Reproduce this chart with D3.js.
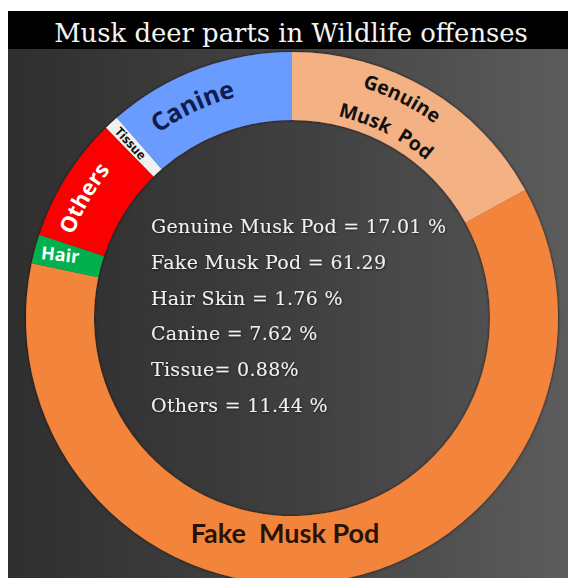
<!DOCTYPE html>
<html>
<head>
<meta charset="utf-8">
<script src="https://cdn.jsdelivr.net/npm/d3@7"></script>
<style>
  html, body { margin: 0; padding: 0; background: #ffffff; }
  svg { display: block; }
</style>
</head>
<body>
<svg id="chart" width="568" height="578"></svg>
<script>
// Share of musk deer parts seized in wildlife offences (%)
const categories = ["Genuine Musk Pod", "Fake Musk Pod", "Hair Skin", "Canine", "Tissue", "Others"];
const values = [17.01, 61.29, 1.76, 7.62, 0.88, 11.44];
const sliceColors = ["#F4B183", "#F3843A", "#00B050", "#FA0000", "#F0F0F0", "#6A9BFF"];
// Tags written on the ring, one per slice, in slice order
const ringTags = ["Genuine|Musk  Pod", "Fake  Musk Pod", "Hair", "Others", "Tissue", "Canine"];
// Summary lines printed in the hole
const summaryLines = [
  "Genuine Musk Pod = 17.01 %",
  "Fake Musk Pod = 61.29",
  "Hair Skin = 1.76 %",
  "Canine = 7.62 %",
  "Tissue= 0.88%",
  "Others = 11.44 %"
];
const titleText = "Musk deer parts in Wildlife offenses";

const W = 568, H = 578;
const svg = d3.select("#chart");
const defs = svg.append("defs");

// Background gradient: darker on the left, lighter to the right
const bg = defs.append("linearGradient").attr("id", "bgGrad")
  .attr("x1", "0%").attr("y1", "0%").attr("x2", "100%").attr("y2", "0%");
bg.append("stop").attr("offset", "0%").attr("stop-color", "#2f2f2f");
bg.append("stop").attr("offset", "55%").attr("stop-color", "#454545");
bg.append("stop").attr("offset", "100%").attr("stop-color", "#5c5c5c");

const shadow = defs.append("filter").attr("id", "ringShadow")
  .attr("x", "-10%").attr("y", "-10%").attr("width", "120%").attr("height", "120%");
shadow.append("feDropShadow").attr("dx", 0).attr("dy", 0)
  .attr("stdDeviation", 1.6).attr("flood-color", "#1a0800").attr("flood-opacity", 0.9);

const txtShadow = defs.append("filter").attr("id", "txtGlow");
txtShadow.append("feDropShadow").attr("dx", 0.6).attr("dy", 0.8)
  .attr("stdDeviation", 0.8).attr("flood-color", "#000").attr("flood-opacity", 0.6);

// Panel
svg.append("rect").attr("x", 8).attr("y", 11).attr("width", W - 8).attr("height", H - 11)
  .attr("fill", "url(#bgGrad)");

// Donut geometry
const cx = 292, cy = 318, rOuter = 266, rInner = 198;

const g = svg.append("g").attr("transform", `translate(${cx},${cy})`);

// slightly darker hole
g.append("circle").attr("r", rInner).attr("fill", "#000").attr("fill-opacity", 0.05);

const pie = d3.pie().sort(null).value(d => d.value);
const arcs = pie(categories.map((c, i) => ({ name: c, value: values[i], color: sliceColors[i], tag: ringTags[i] })));
const arcGen = d3.arc().innerRadius(rInner).outerRadius(rOuter);

g.append("g").attr("filter", "url(#ringShadow)")
  .selectAll("path").data(arcs).join("path")
  .attr("d", arcGen)
  .attr("fill", d => d.data.color);

// Title bar
svg.append("rect").attr("x", 8).attr("y", 11).attr("width", W - 8).attr("height", 38).attr("fill", "#000");
const title = svg.append("text")
  .attr("x", 291).attr("y", 42)
  .attr("text-anchor", "middle")
  .attr("font-family", "'DejaVu Serif', serif")
  .attr("font-size", 26)
  .attr("fill", "#f4f4f4")
  .text(titleText);
// keep the title to its width inside the bar
const tw = title.node().getComputedTextLength();
if (tw > 474) title.attr("font-size", 26 * 474 / tw);

// Helpers for labels written along the ring
const deg = Math.PI / 180;
const pt = (a, r) => [r * Math.sin(a * deg), -r * Math.cos(a * deg)];
let pathId = 0;
function curvedLabel(text, angle, r, opts) {
  const id = "lp" + (pathId++);
  const s = pt(angle - 89, r), e = pt(angle + 89, r);
  defs.append("path").attr("id", id)
    .attr("d", `M${s[0] + cx},${s[1] + cy} A${r},${r} 0 0 1 ${e[0] + cx},${e[1] + cy}`);
  svg.append("text")
    .attr("font-family", opts.family || "'Open Sans', sans-serif")
    .attr("font-weight", 700)
    .attr("font-size", opts.size)
    .attr("fill", opts.color)
    .append("textPath")
    .attr("href", "#" + id)
    .attr("startOffset", "50%")
    .attr("text-anchor", "middle")
    .style("white-space", "pre")
    .text(text);
}
// Same idea, but each glyph is set on its own so the two stacked lines stay tight
function letterArc(text, angle, r, opts) {
  const font = opts.family || "'Open Sans', sans-serif";
  const probe = svg.append("text").attr("font-family", font).attr("font-weight", 700)
    .attr("font-size", opts.size).style("white-space", "pre").text(text);
  const node = probe.node();
  const widths = Array.from(text, (c, i) => node.getSubStringLength(i, 1));
  probe.remove();
  const total = d3.sum(widths);
  let off = 0;
  const gl = g.append("g");
  Array.from(text).forEach((c, i) => {
    const w = widths[i];
    const a = angle + ((off + w / 2) - total / 2) / r / deg;
    off += w;
    if (c === " ") return;
    const [x, y] = pt(a, r);
    gl.append("text")
      .attr("transform", `translate(${x},${y}) rotate(${a})`)
      .attr("text-anchor", "middle")
      .attr("font-family", font).attr("font-weight", 700)
      .attr("font-size", opts.size).attr("fill", opts.color)
      .text(c);
  });
}
const midAngle = d => (d.startAngle + d.endAngle) / 2 / deg;

// Genuine Musk Pod (two lines along the arc)
{
  const d = arcs[0];
  const [l1, l2] = d.data.tag.split("|");
  const a = midAngle(d) - 4;
  letterArc(l1, a, 241, { size: 19.5, color: "#111" });
  letterArc(l2, a, 207, { size: 19.5, color: "#111" });
}
// Red slice tag
curvedLabel(arcs[3].data.tag, midAngle(arcs[3]) - 2, 234, { size: 22, color: "#ffffff" });
// Blue slice tag
curvedLabel(arcs[5].data.tag, midAngle(arcs[5]) - 4.5, 228, { size: 25, color: "#0e1d4c" });

// Tissue: written radially on the thin white slice
{
  const d = arcs[4];
  const a = midAngle(d);
  const [x, y] = pt(a, 238);
  const rot = Math.atan2(Math.cos(a * deg), -Math.sin(a * deg)) / deg;
  g.append("text")
    .attr("transform", `translate(${x},${y}) rotate(${rot})`)
    .attr("text-anchor", "middle").attr("dy", "0.35em")
    .attr("font-family", "'Open Sans', sans-serif").attr("font-weight", 700)
    .attr("font-size", 12.5).attr("fill", "#111")
    .text(d.data.tag);
}
// Hair
{
  const d = arcs[2];
  const [x, y] = pt(midAngle(d), 240);
  g.append("text")
    .attr("transform", `translate(${x},${y}) rotate(6)`)
    .attr("text-anchor", "middle").attr("dy", "0.3em")
    .attr("font-family", "'Open Sans', sans-serif").attr("font-weight", 700)
    .attr("font-size", 18).attr("fill", "#ffffff")
    .text(d.data.tag);
}
// Fake Musk Pod along the bottom of the ring
svg.append("text")
  .attr("x", cx - 7).attr("y", 543)
  .attr("text-anchor", "middle")
  .attr("font-family", "Lato, sans-serif").attr("font-weight", 700)
  .attr("font-size", 27).attr("fill", "#2a1205")
  .style("white-space", "pre")
  .text(arcs[1].data.tag);

// Summary list in the hole
const lineY = d3.scalePoint().domain(d3.range(summaryLines.length)).range([233, 412]);
svg.append("g").attr("filter", "url(#txtGlow)")
  .selectAll("text").data(summaryLines).join("text")
  .attr("x", 151)
  .attr("y", (d, i) => lineY(i))
  .attr("font-family", "'DejaVu Serif', serif")
  .attr("font-size", 19)
  .attr("letter-spacing", 0.3)
  .attr("fill", "#f0f0f0")
  .text(d => d);
</script>
</body>
</html>
